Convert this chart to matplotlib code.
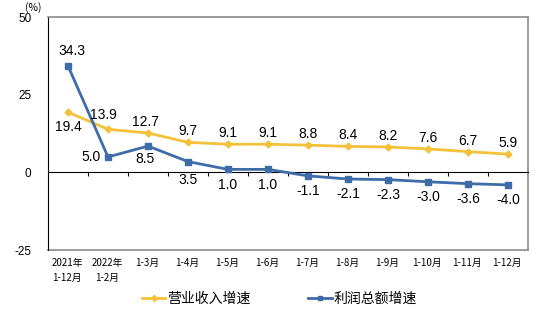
import matplotlib.pyplot as plt
from matplotlib.lines import Line2D
from matplotlib.transforms import blended_transform_factory

plt.rcParams['font.family'] = ['Noto Sans CJK SC', 'DejaVu Sans']
plt.rcParams['axes.unicode_minus'] = False

categories = ['2021年\n1-12月', '2022年\n1-2月', '1-3月', '1-4月', '1-5月', '1-6月',
              '1-7月', '1-8月', '1-9月', '1-10月', '1-11月', '1-12月']
revenue = [19.4, 13.9, 12.7, 9.7, 9.1, 9.1, 8.8, 8.4, 8.2, 7.6, 6.7, 5.9]
profit = [34.3, 5.0, 8.5, 3.5, 1.0, 1.0, -1.1, -2.1, -2.3, -3.0, -3.6, -4.0]
yticks = [-25, 0, 25, 50]

yellow = '#F3C13A'
blue = '#3D6CA8'

# label offsets in points
rev_off = [(0, -11), (-3, 10), (-2, 8), (0, 8)] + [(0, 8)] * 8
prof_off = [(3, 11), (-12, 0), (-2, -9), (0, -13)] + [(0, -11)] * 8

fig = plt.figure(figsize=(5.42, 3.30), dpi=100)
ax = fig.add_axes([0.0886, 0.242, 0.8856, 0.706])

x = list(range(len(categories)))
ax.plot(x, revenue, color=yellow, lw=2, marker='D', ms=3.5, zorder=3)
ax.plot(x, profit, color=blue, lw=2, marker='s', ms=4, zorder=3)

for i in x:
    ax.annotate(f'{revenue[i]:.1f}', (i, revenue[i]), xytext=rev_off[i],
                textcoords='offset points', ha='center', va='center', fontsize=10,
                family='Liberation Sans')
    ax.annotate(f'{profit[i]:.1f}', (i, profit[i]), xytext=prof_off[i],
                textcoords='offset points', ha='center', va='center', fontsize=10,
                family='Liberation Sans')

ax.set_xlim(-0.5, len(categories) - 0.5)
ax.set_ylim(-25, 50)
ax.set_yticks(yticks)
ax.tick_params(axis='y', length=0, labelsize=8.5, pad=12)
for lab in ax.get_yticklabels():
    lab.set_family('Liberation Sans')

ax.spines['bottom'].set_position(('data', 0))
ax.spines['bottom'].set_color('black')
ax.spines['left'].set_color('black')
for s in ['top', 'right']:
    ax.spines[s].set_color('#8a8a8a')
    ax.spines[s].set_linewidth(1.2)
ax.axhline(-25, color='#8a8a8a', lw=1.2, clip_on=False)

ax.set_xticks([i + 0.5 for i in x[:-1]])
ax.set_xticklabels([])
ax.tick_params(axis='x', length=3, direction='out', color='black')

trans = blended_transform_factory(ax.transData, ax.transAxes)
for i, c in enumerate(categories):
    ax.text(i - 0.02, -0.035, c, transform=trans, ha='center', va='top',
            fontsize=7, linespacing=1.6)

fig.text(0.062, 0.978, '(%)', ha='center', va='center', fontsize=7.5)

handles = [Line2D([], [], color=yellow, lw=2, marker='D', ms=3),
           Line2D([], [], color=blue, lw=2, marker='s', ms=3)]
fig.legend(handles, ['营业收入增速', '利润总额增速'], loc='center', ncol=2,
           bbox_to_anchor=(0.515, 0.095), frameon=False, fontsize=10,
           handlelength=1.7, handletextpad=0.1, columnspacing=4.2)

fig.savefig('out.png', dpi=100)
